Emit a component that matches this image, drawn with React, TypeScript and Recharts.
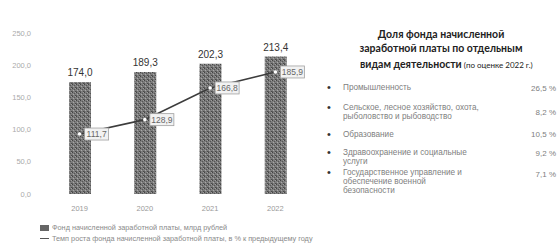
import React from 'react';
import { ComposedChart, Bar, Line, XAxis, YAxis, LabelList } from 'recharts';

const years = ['2019', '2020', '2021', '2022'];
const fundValues = [174.0, 189.3, 202.3, 213.4];
const lineValues = [111.7, 128.9, 166.8, 185.9];
const yTicks = [0, 50, 100, 150, 200, 250];

const titleLines = ['Доля фонда начисленной', 'заработной платы по отдельным'];
const titleLast = 'видам деятельности';
const titleNote = '(по оценке 2022 г.)';

const itemLines = [
  ['Промышленность'],
  ['Сельское, лесное хозяйство, охота,', 'рыболовство и рыбоводство'],
  ['Образование'],
  ['Здравоохранение и социальные', 'услуги'],
  ['Государственное управление и', 'обеспечение военной', 'безопасности'],
];
const itemShares = ['26,5 %', '8,2 %', '10,5 %', '9,2 %', '7,1 %'];

const legendBar = 'Фонд начисленной заработной платы, млрд рублей';
const legendLine = 'Темп роста фонда начисленной заработной платы, в % к предыдущему году';

const data = years.map((y, i) => ({ year: y, fund: fundValues[i], rate: lineValues[i] }));

const fmt = (v: number) => v.toFixed(1).replace('.', ',');

const LineLabel = (props: any) => {
  const { x, y, value } = props;
  const txt = fmt(value);
  const w = 24;
  const h = 12;
  return (
    <g>
      <rect x={x + 5} y={y - h / 2} width={w} height={h} fill="#f2f2f2" stroke="#a0a0a0" strokeWidth={0.8} />
      <text x={x + 5 + w / 2} y={y + 3} textAnchor="middle" fontSize={8.5} fill="#666" fontFamily="Liberation Sans Narrow, Liberation Sans, sans-serif">
        {txt}
      </text>
    </g>
  );
};

const BarLabel = (props: any) => {
  const { x, y, width, value } = props;
  return (
    <text x={x + width / 2} y={y - 6} textAnchor="middle" fontSize={10} fill="#333" fontFamily="Liberation Sans Narrow, Liberation Sans, sans-serif">
      {fmt(value)}
    </text>
  );
};

export default function App() {
  const chartFont = 'Liberation Sans, sans-serif';
  return (
    <div style={{ position: 'absolute', left: 0, top: 0, width: 559, height: 249, background: '#fff', overflow: 'hidden' }}>
      <div style={{ position: 'absolute', left: 0, top: 0 }}>
        <ComposedChart width={311} height={249} data={data} margin={{ top: 33, right: 3, bottom: 25, left: 0 }}>
          <defs>
            <pattern id="tex" width="4" height="4" patternUnits="userSpaceOnUse">
              <rect width="4" height="4" fill="#7c7c7c" />
              <rect x="0" y="0" width="1" height="1" fill="#444" />
              <rect x="2" y="1" width="1" height="1" fill="#555" />
              <rect x="1" y="2" width="1" height="1" fill="#a8a8a8" />
              <rect x="3" y="3" width="1" height="1" fill="#4a4a4a" />
              <rect x="3" y="0" width="1" height="1" fill="#9d9d9d" />
              <rect x="0" y="3" width="1" height="1" fill="#5c5c5c" />
            </pattern>
          </defs>
          <XAxis
            dataKey="year"
            axisLine={false}
            tickLine={false}
            tickMargin={6}
            tick={{ fontSize: 7.5, fill: '#999', fontFamily: chartFont }}
          />
          <YAxis
            yAxisId="l"
            width={47}
            domain={[0, 250]}
            ticks={yTicks}
            axisLine={false}
            tickLine={false}
            tickFormatter={fmt}
            tick={{ fontSize: 7.5, fill: '#aaa', fontFamily: chartFont }}
            tickMargin={10}
          />
          <YAxis yAxisId="r" orientation="right" hide domain={[40, 232.5]} />
          <Bar yAxisId="l" dataKey="fund" barSize={22} fill="url(#tex)" isAnimationActive={false}>
            <LabelList dataKey="fund" content={BarLabel} />
          </Bar>
          <Line
            yAxisId="r"
            dataKey="rate"
            stroke="#3c3c3c"
            strokeWidth={1.6}
            dot={{ r: 1.8, fill: '#fff', stroke: 'none' }}
            isAnimationActive={false}
          >
            <LabelList dataKey="rate" content={LineLabel} />
          </Line>
        </ComposedChart>
      </div>

      <div style={{ position: 'absolute', left: 40, top: 222, fontFamily: chartFont, fontSize: 7.3, color: '#8a8a8a', whiteSpace: 'nowrap', lineHeight: '11px' }}>
        <div style={{ display: 'flex', alignItems: 'center' }}>
          <span style={{ display: 'inline-block', width: 9, height: 6, background: '#666', marginRight: 3 }} />
          {legendBar}
        </div>
        <div style={{ display: 'flex', alignItems: 'center' }}>
          <span style={{ display: 'inline-block', width: 9, height: 1.5, background: '#555', marginRight: 3 }} />
          {legendLine}
        </div>
      </div>

      <div style={{ position: 'absolute', left: 341, top: 28, width: 200, textAlign: 'center', fontFamily: 'Lato, sans-serif', fontWeight: 700, fontSize: 10.5, color: '#222', lineHeight: '13.5px', whiteSpace: 'nowrap' }}>
        {titleLines.map((t, i) => (
          <div key={i}>{t}</div>
        ))}
      </div>
      <div style={{ position: 'absolute', left: 360, top: 55, whiteSpace: 'nowrap', fontFamily: 'Lato, sans-serif', color: '#222', lineHeight: '13.5px' }}>
        <span style={{ fontWeight: 700, fontSize: 10.5 }}>{titleLast}</span>
        <span style={{ fontSize: 8 }}> {titleNote}</span>
      </div>

      {itemLines.map((lines, i) => {
        const tops = [83, 103, 130, 148, 168];
        const shareTops = [84, 108, 130, 149, 170];
        return (
          <React.Fragment key={i}>
            <div style={{ position: 'absolute', left: 327, top: tops[i] - 2, fontSize: 11, color: '#333', fontFamily: 'Liberation Sans, sans-serif', lineHeight: '13px' }}>•</div>
            <div style={{ position: 'absolute', left: 343, top: tops[i], fontSize: 8.2, color: '#808080', fontFamily: 'Liberation Sans, sans-serif', lineHeight: '9px', whiteSpace: 'nowrap' }}>
              {lines.map((l, j) => (
                <div key={j}>{l}</div>
              ))}
            </div>
            <div style={{ position: 'absolute', right: 3, top: shareTops[i], fontSize: 8, color: '#808080', fontFamily: 'Liberation Sans, sans-serif', whiteSpace: 'nowrap', textAlign: 'right' }}>
              {itemShares[i]}
            </div>
          </React.Fragment>
        );
      })}
    </div>
  );
}
